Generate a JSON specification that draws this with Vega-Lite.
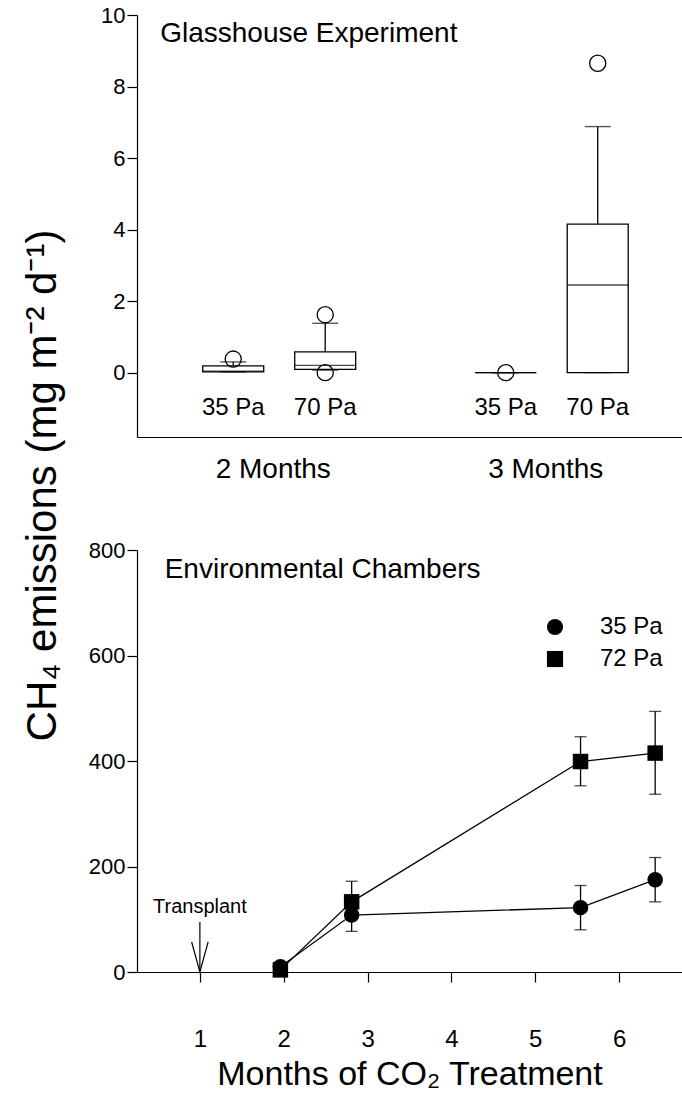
{
  "$schema": "https://vega.github.io/schema/vega-lite/v6.json",
  "padding": {"left": 20, "top": 4, "right": 0, "bottom": 0},
  "background": "white",
  "config": {
    "font": "Liberation Sans",
    "view": {"stroke": null},
    "axis": {"domainColor": "black", "tickColor": "black", "labelColor": "black", "titleColor": "black", "grid": false, "labelFontSize": 22, "tickSize": 10, "domainWidth": 1.2, "tickWidth": 1.2, "labelFont": "Liberation Sans", "titleFont": "Liberation Sans", "titleFontWeight": "normal"}
  },
  "datasets": {
    "boxes": [
      {"month": "2 Months", "co2": "35 Pa", "lo": 0.02, "q1": 0.02, "med": 0.04, "q3": 0.19, "hi": 0.3},
      {"month": "2 Months", "co2": "70 Pa", "lo": 0.07, "q1": 0.09, "med": 0.2, "q3": 0.58, "hi": 1.38},
      {"month": "3 Months", "co2": "35 Pa", "lo": 0, "q1": 0, "med": 0, "q3": 0, "hi": 0},
      {"month": "3 Months", "co2": "70 Pa", "lo": 0, "q1": 0, "med": 2.45, "q3": 4.15, "hi": 6.88}
    ],
    "outliers": [
      {"month": "2 Months", "co2": "35 Pa", "value": 0.38},
      {"month": "2 Months", "co2": "70 Pa", "value": 1.62},
      {"month": "2 Months", "co2": "70 Pa", "value": 0.0},
      {"month": "3 Months", "co2": "35 Pa", "value": 0},
      {"month": "3 Months", "co2": "70 Pa", "value": 8.65}
    ],
    "chamber": [
      {"month": 1.96, "co2": "35 Pa", "value": 10, "lo": 10, "hi": 10},
      {"month": 2.81, "co2": "35 Pa", "value": 108, "lo": 77, "hi": 140},
      {"month": 5.54, "co2": "35 Pa", "value": 122, "lo": 80, "hi": 164},
      {"month": 6.43, "co2": "35 Pa", "value": 175, "lo": 133, "hi": 217},
      {"month": 1.96, "co2": "72 Pa", "value": 4, "lo": 4, "hi": 4},
      {"month": 2.81, "co2": "72 Pa", "value": 133, "lo": 105, "hi": 172},
      {"month": 5.54, "co2": "72 Pa", "value": 399, "lo": 353, "hi": 446},
      {"month": 6.43, "co2": "72 Pa", "value": 415, "lo": 337, "hi": 494}
    ],
    "transplant": [{"label": "Transplant", "month": 1}],
    "panelTitles": [
      {"panel": "top", "label": "Glasshouse Experiment", "month": "2 Months"},
      {"panel": "bottom", "label": "Environmental Chambers", "month": 0.58}
    ]
  },
  "spacing": 113,
  "bounds": "flush",
  "resolve": {"legend": {"shape": "independent"}},
  "vconcat": [
    {
      "width": 545,
      "height": 422,
      "layer": [
        {"data": {"name": "boxes"}, "mark": {"type": "rule", "color": "black", "strokeWidth": 1.3},
         "encoding": {
           "x": {"field": "month", "type": "nominal", "scale": {"paddingInner": 0, "paddingOuter": 0}, "axis": {"ticks": false, "labelFontSize": 28, "labelPadding": 18, "labelAngle": 0, "title": null}},
           "xOffset": {"field": "co2", "type": "nominal", "scale": {"paddingInner": 0.337, "paddingOuter": 0.65, "align": 0.55}},
           "y": {"field": "lo", "type": "quantitative", "scale": {"domain": [-1.8, 10], "nice": false, "zero": false}, "axis": {"values": [0, 2, 4, 6, 8, 10], "title": null}}, "y2": {"field": "hi"}}},
        {"data": {"name": "boxes"}, "mark": {"type": "bar", "fill": "white", "stroke": "black", "strokeWidth": 1.3},
         "encoding": {"x": {"field": "month", "type": "nominal"}, "xOffset": {"field": "co2", "type": "nominal"}, "y": {"field": "q1", "type": "quantitative"}, "y2": {"field": "q3"}}},
        {"data": {"name": "boxes"}, "mark": {"type": "tick", "color": "black", "thickness": 1.3, "size": 61},
         "encoding": {"x": {"field": "month", "type": "nominal"}, "xOffset": {"field": "co2", "type": "nominal"}, "y": {"field": "med", "type": "quantitative"}}},
        {"data": {"name": "boxes"}, "mark": {"type": "tick", "color": "black", "thickness": 1.3, "size": 26},
         "encoding": {"x": {"field": "month", "type": "nominal"}, "xOffset": {"field": "co2", "type": "nominal"}, "y": {"field": "hi", "type": "quantitative"}}},
        {"data": {"name": "boxes"}, "mark": {"type": "tick", "color": "black", "thickness": 1.3, "size": 26},
         "encoding": {"x": {"field": "month", "type": "nominal"}, "xOffset": {"field": "co2", "type": "nominal"}, "y": {"field": "lo", "type": "quantitative"}}},
        {"data": {"name": "outliers"}, "mark": {"type": "point", "shape": "circle", "filled": false, "stroke": "black", "strokeWidth": 1.3, "size": 260, "opacity": 1},
         "encoding": {"x": {"field": "month", "type": "nominal"}, "xOffset": {"field": "co2", "type": "nominal"}, "y": {"field": "value", "type": "quantitative"}}},
        {"data": {"name": "boxes"}, "mark": {"type": "text", "fontSize": 24, "baseline": "middle", "color": "black"},
         "encoding": {"x": {"field": "month", "type": "nominal"}, "xOffset": {"field": "co2", "type": "nominal"}, "y": {"datum": -1, "type": "quantitative"}, "text": {"field": "co2"}}},
        {"data": {"name": "panelTitles"}, "transform": [{"filter": "datum.panel === 'top'"}],
         "mark": {"type": "text", "fontSize": 28, "baseline": "alphabetic", "align": "left", "color": "black"},
         "encoding": {"x": {"field": "month", "type": "nominal", "bandPosition": 0.085}, "y": {"datum": 9.245, "type": "quantitative"}, "text": {"field": "label"}}}
      ]
    },
    {
      "width": 545,
      "height": 422,
      "layer": [
        {"data": {"name": "chamber"}, "mark": {"type": "line", "color": "black", "strokeWidth": 1.3},
         "encoding": {
           "x": {"field": "month", "type": "quantitative", "scale": {"domain": [0.25, 6.75], "nice": false, "zero": false},
                 "axis": {"values": [1, 2, 3, 4, 5, 6], "format": "d", "labelFontSize": 24, "labelPadding": 45, "title": "Months of CO₂ Treatment", "titleFontSize": 34, "titlePadding": 6}},
           "y": {"field": "value", "type": "quantitative", "scale": {"domain": [0, 800], "nice": false},
                 "axis": {"values": [0, 200, 400, 600, 800], "title": "CH₄ emissions (mg m⁻² d⁻¹)", "titleFontSize": 42, "titleX": -82, "titleY": -65, "titleBaseline": "alphabetic", "titleAngle": 270, "titleAlign": "center"}},
           "detail": {"field": "co2"}}},
        {"data": {"name": "chamber"}, "mark": {"type": "errorbar", "ticks": true, "size": 12, "thickness": 1.3, "color": "black"},
         "encoding": {"x": {"field": "month", "type": "quantitative"}, "y": {"field": "lo", "type": "quantitative", "title": "CH₄ emissions (mg m⁻² d⁻¹)"}, "y2": {"field": "hi"}}},
        {"data": {"name": "chamber"}, "mark": {"type": "point", "filled": true, "size": 240, "color": "black", "opacity": 1},
         "encoding": {"x": {"field": "month", "type": "quantitative"}, "y": {"field": "value", "type": "quantitative"},
           "shape": {"field": "co2", "type": "nominal", "scale": {"domain": ["35 Pa", "72 Pa"], "range": ["circle", "square"]},
             "legend": {"orient": "none", "legendX": 406, "legendY": 65, "title": null, "labelFontSize": 24, "symbolSize": 260, "symbolFillColor": "black", "symbolStrokeColor": "black", "labelOffset": 33, "rowPadding": 8, "labelColor": "black"}}}},
        {"data": {"name": "transplant"}, "mark": {"type": "rule", "color": "black", "strokeWidth": 1.2},
         "encoding": {"x": {"field": "month", "type": "quantitative"}, "y": {"datum": 0, "type": "quantitative"}, "y2": {"datum": 95}}},
        {"data": {"name": "transplant"}, "mark": {"type": "point", "shape": "M-0.55,-2L0,0L0.55,-2", "filled": false, "size": 900, "stroke": "black", "strokeWidth": 1.2, "opacity": 1},
         "encoding": {"x": {"field": "month", "type": "quantitative"}, "y": {"datum": 0, "type": "quantitative"}}},
        {"data": {"name": "transplant"}, "mark": {"type": "text", "fontSize": 20, "baseline": "alphabetic", "align": "center", "color": "black"},
         "encoding": {"x": {"field": "month", "type": "quantitative"}, "y": {"datum": 112, "type": "quantitative"}, "text": {"field": "label"}}},
        {"data": {"name": "panelTitles"}, "transform": [{"filter": "datum.panel === 'bottom'"}],
         "mark": {"type": "text", "fontSize": 28, "baseline": "alphabetic", "align": "left", "color": "black"},
         "encoding": {"x": {"field": "month", "type": "quantitative"}, "y": {"datum": 747, "type": "quantitative"}, "text": {"field": "label"}}}
      ]
    }
  ]
}
